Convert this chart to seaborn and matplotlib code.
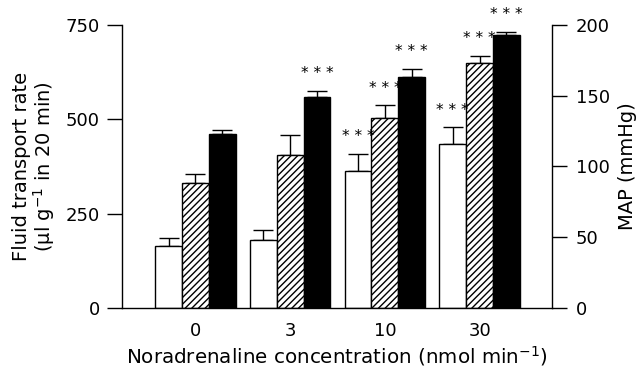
import numpy as np
import pandas as pd
import seaborn as sns
import matplotlib
matplotlib.use('Agg')
import matplotlib.pyplot as plt

# data
concentrations = ['0', '3', '10', '30']
fluid_white = [165, 181, 364, 435]
fluid_white_err = [20, 27, 45, 44]
fluid_hatched = [331, 405, 503, 649]
fluid_hatched_err = [23, 54, 34, 20]
map_black = [123, 149, 163, 193]
map_black_err = [3, 4.5, 6, 2]
sig_white = [False, False, True, True]
sig_hatched = [False, False, True, True]
sig_black = [False, True, True, True]

series_order = ['white', 'hatched', 'MAP']

sns.set_theme(style='ticks')
plt.rcParams['font.family'] = ['DejaVu Sans']
plt.rcParams['mathtext.fontset'] = 'dejavusans'
plt.rcParams['mathtext.default'] = 'regular'
plt.rcParams['hatch.linewidth'] = 1.0
for key in ['text.color', 'axes.labelcolor', 'xtick.color', 'ytick.color', 'axes.edgecolor']:
    plt.rcParams[key] = 'black'

# each axis gets all three hue levels so the bars dodge into three slots;
# the slots that belong to the other axis get height 0 and are hidden
fluid_df = pd.DataFrame({
    'conc': concentrations * 3,
    'series': ['white'] * 4 + ['hatched'] * 4 + ['MAP'] * 4,
    'value': fluid_white + fluid_hatched + [0] * 4,
})
map_df = pd.DataFrame({
    'conc': concentrations * 3,
    'series': ['white'] * 4 + ['hatched'] * 4 + ['MAP'] * 4,
    'value': [0] * 8 + map_black,
})

fig = plt.figure(figsize=(6.37, 3.67), dpi=100)
ax = fig.add_axes([0.1915, 0.1608, 0.6751, 0.7711])
ax2 = ax.twinx()

pal = {'white': 'white', 'hatched': 'white', 'MAP': 'black'}
sns.barplot(data=fluid_df, x='conc', y='value', hue='series', hue_order=series_order,
            order=concentrations, palette=pal, edgecolor='black', linewidth=1,
            width=0.85, errorbar=None, legend=False, ax=ax)
sns.barplot(data=map_df, x='conc', y='value', hue='series', hue_order=series_order,
            order=concentrations, palette=pal, edgecolor='black', linewidth=1,
            width=0.85, errorbar=None, legend=False, ax=ax2)

def visible_bars(a):
    for p in a.patches:
        if p.get_height() == 0:
            p.set_visible(False)
    return sorted([p for p in a.patches if p.get_height() > 0], key=lambda p: p.get_x())

fluid_bars = visible_bars(ax)
white_bars = fluid_bars[0::2]
hatched_bars = fluid_bars[1::2]
black_bars = visible_bars(ax2)
for p in hatched_bars:
    p.set_hatch('/////')

def add_err(a, bars, vals, errs, sig):
    xs = [p.get_x() + p.get_width() / 2 for p in bars]
    a.errorbar(xs, vals, yerr=[np.zeros(len(errs)), errs], fmt='none',
               ecolor='black', elinewidth=1, capsize=7, capthick=1, zorder=0)
    for x, v, e, s in zip(xs, vals, errs, sig):
        if s:
            a.annotate('* * *', (x, v + e), xytext=(0, 7), textcoords='offset points',
                       ha='center', va='bottom', fontsize=11, annotation_clip=False)

add_err(ax, white_bars, fluid_white, fluid_white_err, sig_white)
add_err(ax, hatched_bars, fluid_hatched, fluid_hatched_err, sig_hatched)
add_err(ax2, black_bars, map_black, map_black_err, sig_black)

ax.set_xlim(-0.776, 3.765)
ax.set_ylim(0, 750)
ax2.set_ylim(0, 200)
ax.set_yticks([0, 250, 500, 750])
ax2.set_yticks([0, 50, 100, 150, 200])

for a in (ax, ax2):
    a.spines['top'].set_visible(False)
    for s in a.spines.values():
        s.set_linewidth(1)
        s.set_color('black')
ax.spines['right'].set_visible(False)
ax2.spines['left'].set_visible(False)
ax2.spines['bottom'].set_visible(False)

ax.tick_params(axis='y', length=11, width=1, labelsize=13, pad=5, colors='black')
ax2.tick_params(axis='y', length=11, width=1, labelsize=13, pad=6, colors='black')
ax.tick_params(axis='x', length=0, labelsize=13, pad=10, colors='black')

ax.set_xlabel('Noradrenaline concentration (nmol min$^{-1}$)', fontsize=14.3, labelpad=3)
ax.set_ylabel('Fluid transport rate\n(µl g$^{-1}$ in 20 min)', fontsize=14, labelpad=6,
              linespacing=1.0)
ax2.set_ylabel('MAP (mmHg)', fontsize=14, labelpad=6)

fig.savefig('out.png', dpi=100)
